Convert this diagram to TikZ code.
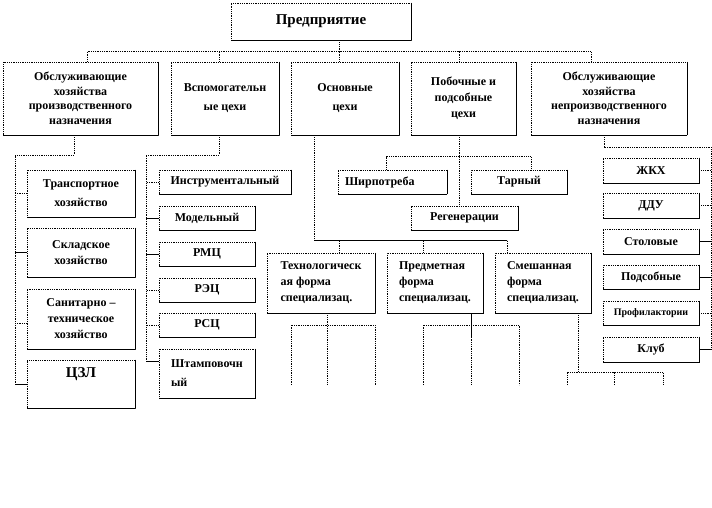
\documentclass[tikz,border=0pt]{standalone}
\usepackage{fontspec}
\setmainfont{Liberation Serif}
\usetikzlibrary{calc}
\tikzset{
  blok/.style={draw,dash pattern=on 0.9pt off 0.9pt,line width=0.8pt,inner sep=2pt,align=center,
    font=\bfseries\fontsize{12}{16}\selectfont,
    append after command={(\tikzlastnode.north east) edge[solid,line width=0.9pt] (\tikzlastnode.south east)
      (\tikzlastnode.south east) edge[solid,line width=0.9pt] (\tikzlastnode.south west)}},
  razm/.style 2 args={minimum width=#1pt,minimum height=#2pt},
  vys/.style={font=\bfseries\fontsize{12}{19}\selectfont},
  plot/.style={font=\bfseries\fontsize{12}{14.5}\selectfont},
  liniya/.style={dash pattern=on 0.9pt off 0.9pt,line width=0.8pt},
  splosh/.style={solid,line width=0.8pt},
}

\begin{document}
\begin{tikzpicture}[x=1pt,y=-1pt]
  \useasboundingbox (0,0) rectangle (712,507);
  % верхний уровень
  \node[blok,razm={180}{37},font=\bfseries\fontsize{15}{18}\selectfont] (pred) at (321,21.5) {Предприятие};
  \node[blok,razm={155}{73},plot] (obs1) at (80.5,98.5) {Обслуживающие\\хозяйства\\производственного\\назначения};
  \node[blok,razm={108}{73},vys] (vsp) at (225,98.5) {Вспомогательн\\ые цехи};
  \node[blok,razm={108}{73},vys] (osn) at (345,98.5) {Основные\\цехи};
  \node[blok,razm={105}{73}] (pob) at (463.5,98.5) {Побочные и\\подсобные\\цехи};
  \node[blok,razm={156}{73},plot] (obs5) at (609,98.5) {Обслуживающие\\хозяйства\\непроизводственного\\назначения};
  % хозяйства производственного назначения
  \node[blok,razm={108}{47},vys] (transp) at (81,193.5) {Транспортное\\хозяйство};
  \node[blok,razm={108}{49}] (sklad) at (81,252.5) {Складское\\хозяйство};
  \node[blok,razm={108}{60}] (sanit) at (81,319) {Санитарно --\\техническое\\хозяйство};
  \node[blok,razm={108}{48},font=\bfseries\fontsize{15}{17}\selectfont] (czl) at (81,384) {ЦЗЛ\\\strut};
  % вспомогательные цехи
  \node[blok,razm={132}{24}] (instr) at (225,182) {Инструментальный};
  \node[blok,razm={96}{24}] (model) at (207,218) {Модельный};
  \node[blok,razm={96}{24}] (rmc) at (207,254) {РМЦ};
  \node[blok,razm={96}{24}] (rec) at (207,290) {РЭЦ};
  \node[blok,razm={96}{24}] (rsc) at (207,325) {РСЦ};
  \node[blok,razm={96}{49},vys,align=left] (shtamp) at (207,373.5) {Штамповочн\\ый};
  % побочные цехи
  \node[blok,razm={109}{24},text width=95pt,align=left] (shirp) at (392.5,182) {Ширпотреба};
  \node[blok,razm={96}{24}] (tarn) at (519,182) {Тарный};
  \node[blok,razm={107}{24}] (regen) at (464.5,218) {Регенерации};
  % формы специализации
  \node[blok,razm={108}{60},align=left] (tech) at (321,283) {Технологическ\\ая форма\\специализац.};
  \node[blok,razm={96}{60},align=left] (predm) at (435,283) {Предметная\\форма\\специализац.};
  \node[blok,razm={96}{60},align=left] (smesh) at (543,283) {Смешанная\\форма\\специализац.};
  % непроизводственные
  \node[blok,razm={96}{25}] (zhkh) at (651,170.5) {ЖКХ};
  \node[blok,razm={96}{25}] (ddu) at (651,205.5) {ДДУ};
  \node[blok,razm={96}{25}] (stol) at (651,241.5) {Столовые};
  \node[blok,razm={96}{24}] (podsob) at (651,277) {Подсобные};
  \node[blok,razm={96}{24},font=\bfseries\fontsize{10}{12}\selectfont] (prof) at (651,313) {Профилактории};
  \node[blok,razm={96}{25}] (klub) at (651,349.5) {Клуб};

  % шина сверху
  \coordinate (shina) at ($(pred.south)+(18,11)$);
  \draw[liniya] ($(pred.south)+(18,0)$) -- (shina);
  \draw[liniya] ($(obs1.north)+(6.5,0)$) |- (shina) -| ($(obs5.north)+(-18,0)$);
  \draw[liniya] ($(vsp.north)+(-6,0)$) -- ++(0,-11);
  \draw[liniya] ($(osn.north)+(-6,0)$) -- ++(0,-11);
  \draw[liniya] ($(pob.north)+(-4.5,0)$) -- ++(0,-11);

  % левая ветвь
  \coordinate (lv) at (15,155);
  \draw[liniya] ($(obs1.south)+(-6.5,0)$) |- (lv) |- (czl.west);
  \draw[splosh] (czl.west) -- (czl.west -| lv);
  \draw[liniya] (transp.west) -- (transp.west -| lv);
  \draw[splosh] (sklad.west) -- (sklad.west -| lv);
  \coordinate (s3) at ($(sanit.west)+(0,4)$);
  \draw[liniya] (s3) -- (s3 -| lv);

  % вспомогательные
  \coordinate (mv) at (146,155);
  \coordinate (sh) at ($(shtamp.west)+(0,-12.5)$);
  \draw[liniya] ($(vsp.south)+(-6,0)$) |- (mv) |- (sh);
  \draw[splosh] (sh) -- (sh -| mv);
  \draw[liniya] (instr.west) -- (instr.west -| mv);
  \draw[splosh] (model.west) -- (model.west -| mv);
  \draw[splosh] (rmc.west) -- (rmc.west -| mv);
  \draw[liniya] (rec.west) -- (rec.west -| mv);
  \draw[liniya] (rsc.west) -- (rsc.west -| mv);

  % основные цехи
  \coordinate (osh) at (314,240);
  \coordinate (sm) at ($(smesh.north)+(-36,0)$);
  \coordinate (te) at ($(tech.north)+(18,0)$);
  \coordinate (pr) at ($(predm.north)+(-12,0)$);
  \draw[liniya] ($(osn.south)+(-31,0)$) -- (osh);
  \draw[splosh] (osh) -- (osh -| sm);
  \draw[liniya] (sm) -- (sm |- osh);
  \draw[liniya] (te) -- (te |- osh);
  \draw[liniya] (pr) -- (pr |- osh);

  % побочные
  \coordinate (pb) at ($(pob.south)+(-4.5,0)$);
  \draw[liniya] (pb) -- (pb |- regen.north);
  \draw[liniya] ($(shirp.north)+(-6.5,0)$) -- ++(0,-13) -| ($(tarn.north)+(12,0)$);

  % непроизводственные
  \coordinate (rv) at (711,147);
  \draw[liniya] ($(obs5.south)+(-5,0)$) |- (rv) |- (klub.east);
  \draw[splosh] (klub.east) -- (klub.east -| rv);
  \draw[liniya] (zhkh.east) -- (zhkh.east -| rv);
  \draw[liniya] (ddu.east) -- (ddu.east -| rv);
  \draw[splosh] (stol.east) -- (stol.east -| rv);
  \draw[splosh] (podsob.east) -- (podsob.east -| rv);
  \draw[liniya] (prof.east) -- (prof.east -| rv);

  % нижние отводы
  \coordinate (t0) at ($(tech.south)+(6,0)$);
  \coordinate (tl) at (291,385);
  \coordinate (tr) at (375,385);
  \draw[liniya] (t0) -- (t0 |- tl);
  \draw[liniya] (tl) -- ++(0,-60) -| (tr);
  \coordinate (p0) at ($(predm.south)+(36,0)$);
  \coordinate (pl) at (423,385);
  \coordinate (prr) at (519,385);
  \draw[splosh] (p0) -- ++(0,25);
  \draw[liniya] (p0) -- (p0 |- pl);
  \draw[liniya] (pl) -- ++(0,-60) -| (prr);
  \coordinate (c0) at ($(smesh.south)+(35,0)$);
  \coordinate (cl) at (567,385);
  \coordinate (cm) at (614,385);
  \coordinate (cr) at (663,385);
  \draw[liniya] (c0) -- ++(0,59);
  \draw[liniya] (cl) -- ++(0,-13) -| (cr);
  \draw[liniya] (cm) -- ++(0,-13);
\end{tikzpicture}
\end{document}
